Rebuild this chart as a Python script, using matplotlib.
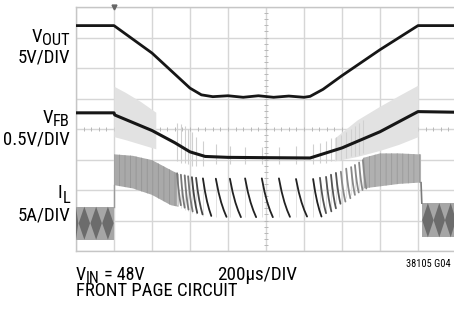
import numpy as np
import matplotlib
matplotlib.use("Agg")
import matplotlib.pyplot as plt

plt.rcParams['font.family'] = ['Roboto Condensed', 'Archivo Narrow', 'DejaVu Sans']

# scope traces, x in divisions (0-10), y in divisions (0-8)
vout_t = [0, 1.0, 2.0, 3.0, 3.3, 3.6, 4.0, 4.4, 4.8, 5.2, 5.6, 6.0, 6.16, 6.5, 7.0, 8.0, 9.0, 10]
vout_v = [7.39, 7.39, 6.49, 5.34, 5.12, 5.06, 5.09, 5.04, 5.09, 5.04, 5.08, 5.04, 5.07, 5.3, 5.75, 6.6, 7.39, 7.39]

vfb_t = [0, 1.0, 1.02, 2.0, 2.6, 3.0, 3.4, 4.0, 5.0, 6.16, 7.0, 8.0, 9.0, 10]
vfb_v = [4.53, 4.53, 4.46, 3.95, 3.55, 3.25, 3.1, 3.07, 3.06, 3.05, 3.38, 3.91, 4.57, 4.55]

# light switching noise around V_FB
fbn_l_t = [1.0, 1.3, 1.7, 2.1]
fbn_l_top = [5.4, 5.2, 4.9, 4.55]
fbn_l_bot = [3.75, 3.65, 3.5, 3.35]
fbn_r_t = [6.8, 7.4, 8.0, 8.5, 9.0]
fbn_r_top = [3.7, 4.3, 4.75, 5.1, 5.44]
fbn_r_bot = [2.95, 3.1, 3.3, 3.5, 3.75]

# inductor current: discrete switching arcs
arc_t = [2.66, 2.76, 2.86, 2.95, 3.05, 3.16, 3.34, 3.68, 4.05, 4.45, 4.89, 5.34, 5.79,
         6.24, 6.42, 6.58, 6.71, 6.84, 6.97, 7.11, 7.24, 7.34, 7.45, 7.55]
arc_top = [2.55, 2.5, 2.48, 2.45, 2.42, 2.4, 2.38, 2.37, 2.37, 2.38, 2.38, 2.38, 2.36,
           2.36, 2.4, 2.43, 2.5, 2.56, 2.6, 2.7, 2.75, 2.82, 2.9, 2.98]
arc_bot = [1.5, 1.42, 1.36, 1.3, 1.25, 1.2, 1.15, 1.12, 1.11, 1.11, 1.11, 1.12, 1.13,
           1.13, 1.24, 1.3, 1.4, 1.55, 1.62, 1.73, 1.84, 1.92, 2.0, 2.05]
arc_w = [0.1, 0.1, 0.1, 0.12, 0.14, 0.17, 0.22, 0.28, 0.29, 0.29, 0.29, 0.29, 0.29,
         0.22, 0.16, 0.14, 0.13, 0.12, 0.12, 0.11, 0.1, 0.1, 0.09, 0.09]
arc_c = ['#777777'] * 4 + ['#444444'] * 2 + ['#222222'] * 8 + ['#555555'] * 4 + ['#888888'] * 6
fb_spike_top = [4.2, 4.15, 4.1, 4.0, 3.9, 3.75, 3.6, 3.5, 3.45, 3.4, 3.4, 3.42, 3.45,
                3.5, 3.55, 3.6, 3.7, 3.75, 3.8, 3.9, 4.0, 4.1, 4.2, 4.3]
fb_spike_bot = [2.95, 2.9, 2.9, 2.85, 2.8, 2.8, 2.8, 2.85, 2.85, 2.85, 2.85, 2.85, 2.85,
                2.85, 2.9, 2.9, 2.95, 3.0, 3.0, 3.05, 3.1, 3.1, 3.15, 3.2]
arc_shape_u = [0, 0.25, 0.5, 0.75, 1.0]
arc_shape_f = [0, 0.35, 0.62, 0.83, 1.0]

# dense continuous-conduction bands of I_L
band_l_t = [1.0, 1.5, 2.0, 2.5, 2.7]
band_l_top = [3.17, 3.12, 2.98, 2.65, 2.52]
band_l_bot = [2.16, 2.05, 1.84, 1.5, 1.45]
band_r_t = [7.55, 8.0, 8.5, 9.0, 9.08]
band_r_top = [3.05, 3.2, 3.2, 3.17, 3.17]
band_r_bot = [2.05, 2.12, 2.2, 2.24, 2.24]

# light-load ripple before and after
low_l_t = [0, 1.0]
low_l_top = [1.45, 1.45]
low_l_bot = [0.37, 0.37]
low_r_t = [9.1, 10]
low_r_top = [1.57, 1.57]
low_r_bot = [0.45, 0.45]
diam_l = [-0.09, 0.22, 0.53, 0.84]
diam_r = [9.26, 9.56, 9.86]
diam_hw = 0.15

fig = plt.figure(figsize=(4.54, 3.10), dpi=100)
ax = fig.add_axes([76/454, 59/310, 380/454, 244/310])
ax.set_xlim(0, 10)
ax.set_ylim(0, 8)
ax.set_xticks(np.arange(0, 11))
ax.set_yticks(np.arange(0, 9))
ax.grid(True, color='#d6d6d6', lw=1.0)
ax.set_axisbelow(True)
ax.tick_params(length=0, labelbottom=False, labelleft=False)
for s in ax.spines.values():
    s.set_color('#c6c6c6')
    s.set_linewidth(1.0)

# centre graticule ticks
ct = np.arange(0, 10.01, 0.2)
ax.plot(ct, np.full_like(ct, 4), ls='none', marker='|', ms=3, mew=0.7, color='#b8b8b8')
cv = np.arange(0, 8.01, 0.2)
ax.plot(np.full_like(cv, 5), cv, ls='none', marker='_', ms=3, mew=0.7, color='#b8b8b8')

# V_FB noise
ax.fill_between(fbn_l_t, fbn_l_bot, fbn_l_top, color='#e2e2e2', lw=0, zorder=2)
ax.fill_between(fbn_r_t, fbn_r_bot, fbn_r_top, color='#e2e2e2', lw=0, zorder=2)
ax.vlines(arc_t, fb_spike_bot, fb_spike_top, color='#d0d0d0', lw=0.8, zorder=2)

# I_L
plt.rcParams['hatch.linewidth'] = 0.6
ax.fill_between(band_l_t, band_l_bot, band_l_top, facecolor='#a9a9a9', hatch='|||',
                edgecolor='#959595', lw=0, zorder=3)
ax.fill_between(band_r_t, band_r_bot, band_r_top, facecolor='#b0b0b0', hatch='|||',
                edgecolor='#9a9a9a', lw=0, zorder=3)
for t0, top, bot, w, c in zip(arc_t, arc_top, arc_bot, arc_w, arc_c):
    xs = [t0 + w * u for u in arc_shape_u]
    ys = [top - (top - bot) * f for f in arc_shape_f]
    ax.plot(xs, ys, color=c, lw=1.3, solid_capstyle='round', zorder=4)
ax.vlines(arc_t, arc_bot, arc_top, color='#dddddd', lw=0.6, zorder=3)

for tt, tp, bt, dc in [(low_l_t, low_l_top, low_l_bot, diam_l), (low_r_t, low_r_top, low_r_bot, diam_r)]:
    ax.fill_between(tt, bt, tp, color='#a6a6a6', lw=0, zorder=3)
    mid = (tp[0] + bt[0]) / 2
    for c in dc:
        xs = np.clip([c - diam_hw, c, c + diam_hw, c], tt[0], tt[-1])
        ax.fill(xs, [mid, tp[0], mid, bt[0]], color='#6c6c6c', lw=0, zorder=3)
ax.plot([low_l_t[-1], band_l_t[0]], [low_l_top[-1], band_l_bot[0]], color='#9a9a9a', lw=1, zorder=3)
ax.plot([band_r_t[-1], low_r_t[0]], [band_r_bot[-1], low_r_top[0]], color='#7a7a7a', lw=1.2, zorder=3)

# voltage traces
ax.plot(vout_t, vout_v, color='#161616', lw=2.0, zorder=5)
ax.plot(vfb_t, vfb_v, color='#161616', lw=2.2, zorder=5)

# trigger marker
ax.plot([1], [8], marker='v', ms=3.5, color='#666666', clip_on=False, zorder=6)

renderer = fig.canvas.get_renderer()
FS = 13.5
FB = 13


def fx(px):
    return px / 454


def fy(py):
    return 1 - py / 310


def label_right(xr, yb, main, sub, drop=3):
    ts = fig.text(fx(xr), fy(yb + drop), sub, ha='right', va='baseline', fontsize=FS * 0.88)
    w = ts.get_window_extent(renderer).width
    fig.text(fx(xr - w), fy(yb), main, ha='right', va='baseline', fontsize=FS)


label_right(70, 42, 'V', 'OUT')
fig.text(fx(70), fy(63), '5V/DIV', ha='right', va='baseline', fontsize=FS)
label_right(70, 123, 'V', 'FB')
fig.text(fx(70), fy(145), '0.5V/DIV', ha='right', va='baseline', fontsize=FS)
label_right(70, 198, 'I', 'L', drop=5)
fig.text(fx(70), fy(221), '5A/DIV', ha='right', va='baseline', fontsize=FS)

# bottom notes
t1 = fig.text(fx(76), fy(280), 'V', ha='left', va='baseline', fontsize=FB)
w1 = t1.get_window_extent(renderer).width
t2 = fig.text(fx(76 + w1), fy(283), 'IN', ha='left', va='baseline', fontsize=FB * 0.88)
w2 = t2.get_window_extent(renderer).width
fig.text(fx(76 + w1 + w2), fy(280), ' = 48V', ha='left', va='baseline', fontsize=FB)
fig.text(fx(217), fy(280), '200µs/DIV', ha='left', va='baseline', fontsize=FB + 0.8)
fig.text(fx(76), fy(296), 'FRONT PAGE CIRCUIT', ha='left', va='baseline', fontsize=FB + 0.5)
fig.text(fx(406), fy(267), '38105 G04', ha='left', va='baseline', fontsize=7.5)

fig.savefig('out.png', dpi=100)
